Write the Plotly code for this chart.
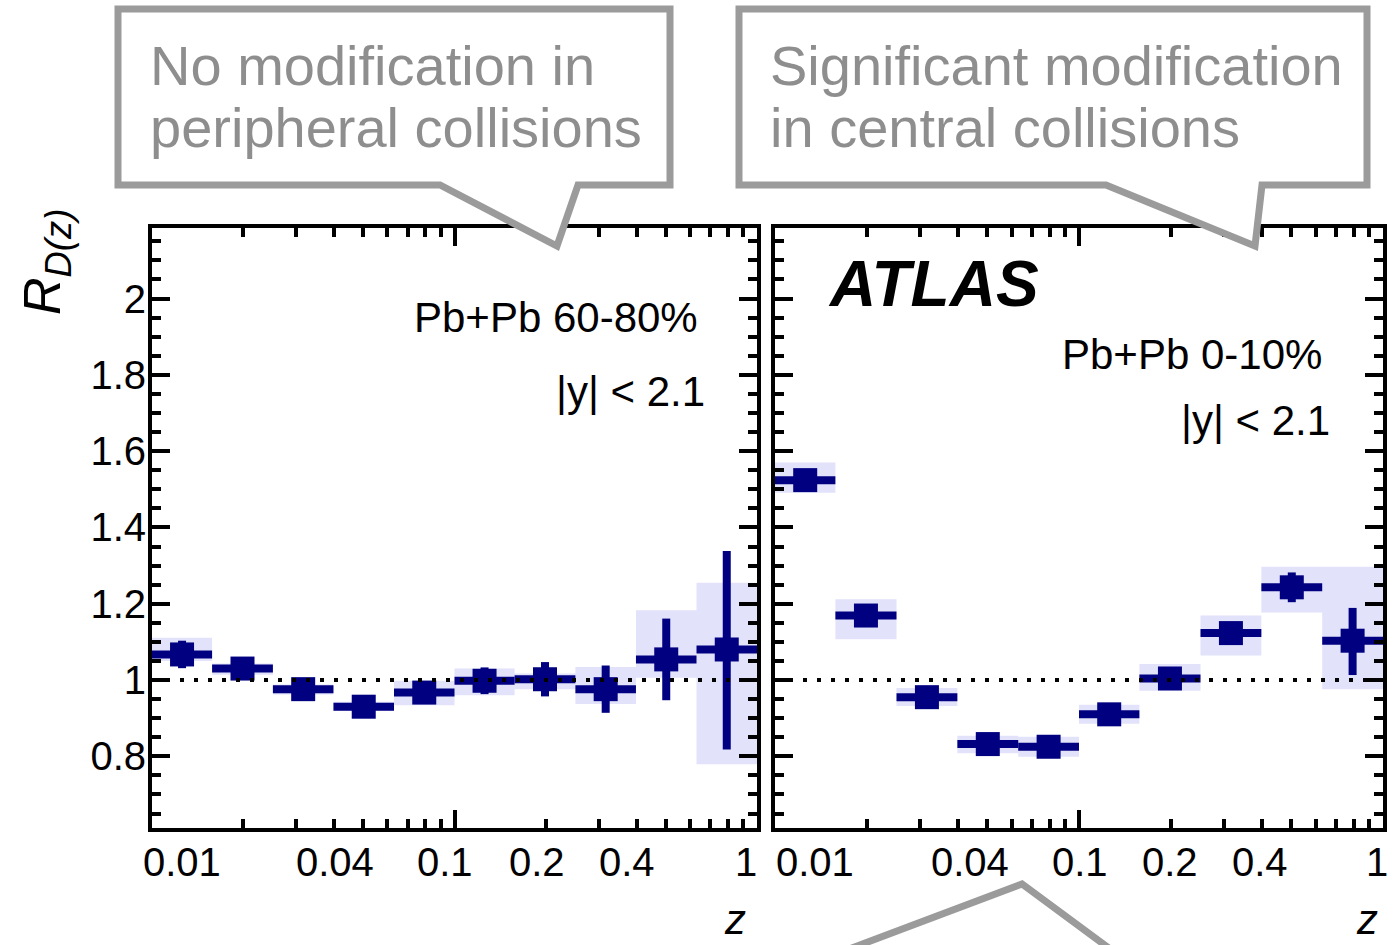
import math
import plotly.graph_objects as go

# ---- data -------------------------------------------------------------
z_edges = [0.01, 0.0158, 0.0251, 0.0398, 0.0631, 0.1, 0.158, 0.251, 0.398, 0.631, 1.0]

# Pb+Pb 60-80 %
periph_r = [1.067, 1.030, 0.976, 0.930, 0.967, 0.998, 1.002, 0.976, 1.054, 1.080]
periph_stat_up = [0.036, 0.022, 0.022, 0.022, 0.022, 0.035, 0.045, 0.062, 0.107, 0.258]
periph_stat_dn = [0.036, 0.022, 0.022, 0.022, 0.022, 0.035, 0.045, 0.062, 0.107, 0.262]
periph_sys_lo = [1.050, 1.014, 0.962, 0.919, 0.934, 0.960, 0.976, 0.937, 1.006, 0.779]
periph_sys_hi = [1.111, 1.043, 0.988, 0.943, 0.998, 1.030, 1.017, 1.034, 1.183, 1.255]

# Pb+Pb 0-10 %
central_r = [1.524, 1.169, 0.955, 0.832, 0.825, 0.910, 1.004, 1.123, 1.243, 1.103]
central_stat_up = [0.022, 0.022, 0.022, 0.022, 0.022, 0.022, 0.022, 0.022, 0.039, 0.086]
central_stat_dn = [0.022, 0.022, 0.022, 0.022, 0.022, 0.022, 0.022, 0.022, 0.039, 0.090]
central_sys_lo = [1.491, 1.107, 0.932, 0.808, 0.799, 0.885, 0.972, 1.064, 1.177, 0.976]
central_sys_hi = [1.570, 1.212, 0.979, 0.854, 0.851, 0.935, 1.042, 1.169, 1.297, 1.297]

x_tick_text = ["0.01", "0.04", "0.1", "0.2", "0.4", "1"]
x_tick_vals = [0.01, 0.04, 0.1, 0.2, 0.4, 1.0]
y_tick_vals = [0.8, 1.0, 1.2, 1.4, 1.6, 1.8, 2.0]
y_tick_text = ["0.8", "1", "1.2", "1.4", "1.6", "1.8", "2"]

# ---- layout helpers ---------------------------------------------------
W, H = 1395, 945
FONT = "Liberation Sans, Arial, sans-serif"
NAVY = "#000080"
BOX_FILL = "#e2e2fb"
CALLOUT = "#9b9b9b"


def px(x):
    return x / W


def py(y):
    return 1 - y / H


lo_edges = z_edges[:-1]
hi_edges = z_edges[1:]
centres = [math.sqrt(a * b) for a, b in zip(lo_edges, hi_edges)]

fig = go.Figure()


def add_panel(xa, ya, r, st_up, st_dn, sys_lo, sys_hi):
    # systematic uncertainty boxes
    bx, by = [], []
    for a, b, lo, hi in zip(lo_edges, hi_edges, sys_lo, sys_hi):
        bx += [a, b, b, a, a, None]
        by += [lo, lo, hi, hi, lo, None]
    fig.add_trace(go.Scatter(x=bx, y=by, xaxis=xa, yaxis=ya, mode="lines",
                             fill="toself", fillcolor=BOX_FILL,
                             line=dict(width=0, color=BOX_FILL),
                             hoverinfo="skip", showlegend=False))
    # points with bin-width bars and statistical errors
    fig.add_trace(go.Scatter(
        x=centres, y=r, xaxis=xa, yaxis=ya, mode="markers",
        marker=dict(symbol="square", size=24, color=NAVY, line=dict(width=0)),
        error_x=dict(type="data", symmetric=False,
                     array=[b - c for b, c in zip(hi_edges, centres)],
                     arrayminus=[c - a for a, c in zip(lo_edges, centres)],
                     thickness=8, width=0, color=NAVY),
        error_y=dict(type="data", symmetric=False, array=st_up, arrayminus=st_dn,
                     thickness=8, width=0, color=NAVY),
        showlegend=False))
    # unity reference line
    fig.add_trace(go.Scatter(x=[z_edges[0], z_edges[-1]], y=[1, 1], xaxis=xa, yaxis=ya,
                             mode="lines", line=dict(color="black", width=4, dash="4px,10px"),
                             hoverinfo="skip", showlegend=False))


add_panel("x", "y", periph_r, periph_stat_up, periph_stat_dn, periph_sys_lo, periph_sys_hi)
add_panel("x2", "y2", central_r, central_stat_up, central_stat_dn, central_sys_lo, central_sys_hi)

x_minor = [k * 0.01 for k in range(2, 10)] + [k * 0.1 for k in range(2, 10)]
y_minor = [round(0.65 + 0.05 * k, 2) for k in range(31)]

xaxis_common = dict(type="log", range=[-2, 0], showline=True, linecolor="black", linewidth=4,
                    mirror="ticks", ticks="inside", ticklen=18, tickwidth=4, tickcolor="black",
                    tickvals=[0.01, 0.1, 1.0], showticklabels=False, showgrid=False, zeroline=False,
                    minor=dict(ticks="inside", ticklen=9, tickwidth=4, tickcolor="black",
                               tickvals=x_minor, showgrid=False))
yaxis_common = dict(range=[0.612, 2.185], showline=True, linecolor="black", linewidth=4,
                    mirror="ticks", ticks="inside", ticklen=18, tickwidth=4, tickcolor="black",
                    tickvals=y_tick_vals, ticktext=y_tick_text, showgrid=False, zeroline=False,
                    tickfont=dict(family=FONT, size=40, color="black"),
                    ticklabelstandoff=-6,
                    minor=dict(ticks="inside", ticklen=9, tickwidth=4, tickcolor="black",
                               tickvals=y_minor, showgrid=False),
                    domain=[py(828), py(228)])

fig.update_layout(
    width=W, height=H, margin=dict(l=0, r=0, t=0, b=0),
    paper_bgcolor="white", plot_bgcolor="white",
    xaxis=dict(xaxis_common, domain=[px(152), px(757)], anchor="y"),
    xaxis2=dict(xaxis_common, domain=[px(775), px(1383)], anchor="y2"),
    yaxis=dict(yaxis_common, anchor="x"),
    yaxis2=dict(yaxis_common, anchor="x2", showticklabels=False),
)

ann = []
# x tick labels, nudged sideways the way the original axis painter placed them
label_nudge = {"x": [30, 1, -10, -9, -10, -11], "x2": [40, 12, 1, -1, -2, -6]}
for xa, nudges in label_nudge.items():
    for v, t, s in zip(x_tick_vals, x_tick_text, nudges):
        ann.append(dict(x=math.log10(v), y=py(862), xref=xa, yref="paper", text=t,
                        showarrow=False, xanchor="center", yanchor="middle", xshift=s,
                        font=dict(family=FONT, size=40, color="black")))

# axis titles
for x in (735, 1367):
    ann.append(dict(x=px(x), y=0, xref="paper", yref="paper", text="<i>z</i>",
                    showarrow=False, xanchor="center", yanchor="bottom",
                    font=dict(family=FONT, size=42, color="black")))
ann.append(dict(x=px(46), y=py(262), xref="paper", yref="paper",
                text="<i>R</i><sub><i>D(z)</i></sub>", textangle=-90, showarrow=False,
                xanchor="center", yanchor="middle",
                font=dict(family=FONT, size=52, color="black")))


# panel labels
def label(x, y, text, size=42, anchor="right"):
    ann.append(dict(x=px(x), y=py(y), xref="paper", yref="paper", text=text,
                    showarrow=False, xanchor=anchor, yanchor="middle",
                    font=dict(family=FONT, size=size, color="black")))


label(700, 317, "Pb+Pb 60-80%")
label(707, 392, "|y| &lt; 2.1")
label(1324, 354, "Pb+Pb 0-10%")
label(1332, 420, "|y| &lt; 2.1")
label(826, 284, "<b><i>ATLAS</i></b>", size=64, anchor="left")


# callout texts
def note(x, y, text):
    ann.append(dict(x=px(x), y=py(y), xref="paper", yref="paper", text=text,
                    showarrow=False, xanchor="left", yanchor="middle",
                    font=dict(family=FONT, size=56, color="#8e8e8e")))


note(148, 65, "No modification in")
note(148, 127, "peripheral collisions")
note(768, 65, "Significant modification")
note(768, 127, "in central collisions")
fig.update_layout(annotations=ann)


def path(points, close=True):
    s = "M " + " L ".join(f"{px(a):.5f},{py(b):.5f}" for a, b in points)
    return s + (" Z" if close else "")


shapes = [
    dict(type="path", xref="paper", yref="paper", layer="above",
         path=path([(118, 9), (670, 9), (670, 185), (578, 185), (557, 246),
                    (440, 185), (118, 185)]),
         line=dict(color=CALLOUT, width=7), fillcolor="white"),
    dict(type="path", xref="paper", yref="paper", layer="above",
         path=path([(739, 9), (1367, 9), (1367, 185), (1262, 185), (1255, 246),
                    (1106, 185), (739, 185)]),
         line=dict(color=CALLOUT, width=7), fillcolor="white"),
    dict(type="path", xref="paper", yref="paper", layer="above",
         path=path([(820, 960), (1022, 884), (1125, 960)], close=False),
         line=dict(color=CALLOUT, width=7)),
]
fig.update_layout(shapes=shapes)

fig.write_html("out.html")
